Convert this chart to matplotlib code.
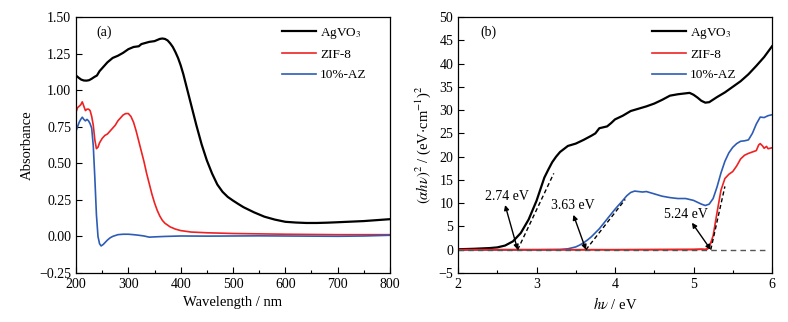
import matplotlib
matplotlib.use("Agg")
import matplotlib.pyplot as plt
from matplotlib.ticker import MultipleLocator

plt.rcParams['font.family'] = ['Liberation Serif', 'DejaVu Serif']
plt.rcParams['mathtext.fontset'] = 'stix'

# ---------------- data: panel (a) ----------------
wl_ag = [200,205,210,215,220,225,230,235,240,245,250,260,270,280,290,300,310,320,325,330,340,350,360,365,370,375,380,385,390,395,400,405,410,415,420,425,430,440,450,460,470,480,490,500,510,520,540,560,580,600,620,640,660,680,700,750,800]
ab_ag = [1.10,1.085,1.072,1.066,1.065,1.068,1.078,1.09,1.10,1.13,1.15,1.19,1.22,1.235,1.255,1.28,1.295,1.30,1.315,1.32,1.33,1.335,1.35,1.353,1.35,1.34,1.32,1.295,1.26,1.22,1.17,1.11,1.04,0.97,0.90,0.83,0.76,0.63,0.52,0.43,0.355,0.305,0.27,0.245,0.222,0.20,0.165,0.135,0.115,0.10,0.095,0.092,0.092,0.094,0.097,0.105,0.118]

wl_zif = [200,203,206,209,212,215,218,221,224,227,230,233,236,239,242,245,250,255,260,265,270,275,280,285,290,295,300,305,310,315,320,325,330,335,340,345,350,355,360,365,370,380,390,400,420,450,500,600,700,800]
ab_zif = [0.85,0.88,0.89,0.90,0.92,0.89,0.86,0.87,0.87,0.86,0.82,0.76,0.66,0.60,0.61,0.64,0.67,0.69,0.70,0.72,0.74,0.76,0.79,0.81,0.83,0.84,0.84,0.82,0.78,0.72,0.65,0.58,0.51,0.43,0.36,0.29,0.23,0.18,0.14,0.11,0.09,0.065,0.05,0.04,0.03,0.025,0.02,0.015,0.012,0.012]

wl_az = [200,203,206,209,212,215,218,221,224,227,230,233,236,239,242,245,248,252,256,260,265,270,280,290,300,310,320,330,340,350,370,400,450,500,550,600,650,700,750,800]
ab_az = [0.72,0.75,0.78,0.80,0.815,0.80,0.79,0.80,0.79,0.77,0.74,0.62,0.40,0.15,0.0,-0.05,-0.065,-0.055,-0.04,-0.025,-0.01,0.0,0.012,0.015,0.015,0.012,0.008,0.003,-0.005,-0.003,0.0,0.003,0.002,0.003,0.004,0.003,0.002,0.001,0.003,0.008]

# ---------------- data: panel (b) ----------------
E_ag = [2.0,2.2,2.4,2.5,2.6,2.7,2.8,2.9,3.0,3.05,3.1,3.15,3.2,3.25,3.3,3.4,3.5,3.6,3.7,3.75,3.8,3.9,3.95,4.0,4.1,4.2,4.3,4.4,4.5,4.6,4.7,4.8,4.9,4.95,5.0,5.05,5.1,5.15,5.2,5.3,5.4,5.5,5.6,5.7,5.8,5.9,6.0]
y_ag = [0.1,0.2,0.35,0.5,0.9,1.8,3.6,6.5,10.5,13.0,15.5,17.2,18.8,20.0,21.0,22.3,22.8,23.6,24.5,25.0,26.1,26.5,27.2,28.0,28.8,29.8,30.3,30.8,31.4,32.2,33.1,33.4,33.6,33.7,33.3,32.7,32.0,31.6,31.7,32.8,33.8,35.0,36.2,37.7,39.5,41.4,43.7]

E_az = [2.0,3.0,3.3,3.4,3.5,3.55,3.6,3.65,3.7,3.8,3.9,4.0,4.1,4.15,4.2,4.25,4.3,4.35,4.4,4.5,4.6,4.7,4.8,4.9,5.0,5.05,5.1,5.15,5.2,5.25,5.3,5.35,5.4,5.45,5.5,5.55,5.6,5.65,5.7,5.75,5.8,5.85,5.9,5.95,6.0]
y_az = [0.0,0.0,0.05,0.2,0.6,1.0,1.5,2.1,2.8,4.5,6.6,8.7,10.6,11.6,12.3,12.6,12.5,12.4,12.5,12.0,11.5,11.2,11.0,11.0,10.6,10.2,9.8,9.5,9.8,11.0,13.5,16.5,19.0,20.8,22.0,22.8,23.3,23.4,23.6,25.0,27.0,28.5,28.4,28.8,29.0]

E_zif = [2.0,3.0,4.0,5.0,5.1,5.15,5.18,5.2,5.22,5.25,5.3,5.35,5.4,5.45,5.5,5.55,5.6,5.65,5.7,5.75,5.8,5.83,5.85,5.88,5.9,5.93,5.95,6.0]
y_zif = [0.0,0.0,0.0,0.05,0.1,0.05,0.2,0.6,1.5,3.0,8.0,12.8,15.3,16.2,16.8,18.0,19.5,20.3,20.7,21.0,21.3,22.5,22.8,22.3,21.8,22.2,21.7,21.9]

labels = ['AgVO$_3$', 'ZIF-8', '10%-AZ']
colors = ['black', '#ee2222', '#2d5cb5']

# band-gap annotations
gaps = ['2.74 eV', '3.63 eV', '5.24 eV']
gap_x0 = [2.76, 3.63, 5.22]
tan_end_x = [3.22, 4.13, 5.40]
tan_end_y = [16.4, 10.8, 13.6]
arrow_x = [2.60, 3.47, 4.98]
arrow_y = [9.6, 7.5, 5.8]
text_x = [2.62, 3.46, 4.90]
text_y = [11.4, 9.5, 7.6]

fig = plt.figure(figsize=(7.88, 3.22), dpi=100)
ax1 = fig.add_axes([76/788, 1-273/322, 314/788, 256/322])
ax2 = fig.add_axes([458/788, 1-273/322, 314/788, 256/322])

ax1.plot(wl_ag, ab_ag, color=colors[0], lw=1.6, label=labels[0])
ax1.plot(wl_zif, ab_zif, color=colors[1], lw=1.2, label=labels[1])
ax1.plot(wl_az, ab_az, color=colors[2], lw=1.2, label=labels[2])
ax1.set_xlim(200, 800)
ax1.set_ylim(-0.25, 1.5)
ax1.xaxis.set_major_locator(MultipleLocator(100))
ax1.xaxis.set_minor_locator(MultipleLocator(50))
ax1.yaxis.set_major_locator(MultipleLocator(0.25))
ax1.yaxis.set_major_formatter(matplotlib.ticker.FuncFormatter(lambda v, p: f"{v:.2f}".replace('-', '\u2212')))
ax1.set_xlabel('Wavelength / nm', fontsize=10.5)
ax1.set_ylabel('Absorbance', fontsize=10.5)
ax1.text(0.064, 0.94, '(a)', transform=ax1.transAxes, fontsize=10, va='center')

ax2.plot(E_ag, y_ag, color=colors[0], lw=1.6, label=labels[0])
ax2.plot(E_zif, y_zif, color=colors[1], lw=1.2, label=labels[1])
ax2.plot(E_az, y_az, color=colors[2], lw=1.2, label=labels[2])
ax2.plot(E_zif[:9], y_zif[:9], color=colors[1], lw=1.2)
ax2.plot([2.0, 5.95], [0, 0], color='#555555', lw=1.0, ls=(0, (4, 3)))
for i in range(3):
    ax2.plot([gap_x0[i], tan_end_x[i]], [0, tan_end_y[i]], color='black', lw=1.0, ls=(0, (3, 2)))
    ax2.annotate('', xy=(arrow_x[i], arrow_y[i]), xytext=(gap_x0[i], 0),
                 arrowprops=dict(arrowstyle='<|-|>', color='black', lw=1.0,
                                 mutation_scale=7, shrinkA=0, shrinkB=0))
    ax2.text(text_x[i], text_y[i], gaps[i], fontsize=10, ha='center', va='center')
ax2.set_xlim(2, 6)
ax2.set_ylim(-5, 50)
ax2.xaxis.set_major_locator(MultipleLocator(1))
ax2.xaxis.set_minor_locator(MultipleLocator(0.5))
ax2.yaxis.set_major_locator(MultipleLocator(5))
ax2.yaxis.set_major_formatter(matplotlib.ticker.FuncFormatter(lambda v, p: f"{v:.0f}".replace('-', '\u2212')))
ax2.set_xlabel(r'$h\nu$ / eV', fontsize=10.5)
ax2.set_ylabel(r'$(\alpha h\nu)^2$ / (eV$\cdot$cm$^{-1}$)$^2$', fontsize=10.5)
ax2.text(0.07, 0.94, '(b)', transform=ax2.transAxes, fontsize=10, va='center')

legend_x = [(282-76)/314, (652-458)/314]
for ax, lx in zip((ax1, ax2), legend_x):
    ax.tick_params(which='both', direction='in', labelsize=10)
    ax.tick_params(which='major', length=4, width=0.8)
    ax.tick_params(which='minor', length=2.5, width=0.8)
    for s in ax.spines.values():
        s.set_linewidth(0.9)
    ax.legend(loc='upper left', bbox_to_anchor=(lx, 0.965), frameon=False, fontsize=9.5,
              handlelength=2.6, handletextpad=0.3, labelspacing=0.6,
              borderaxespad=0, borderpad=0)

fig.savefig('out.png', dpi=100)
